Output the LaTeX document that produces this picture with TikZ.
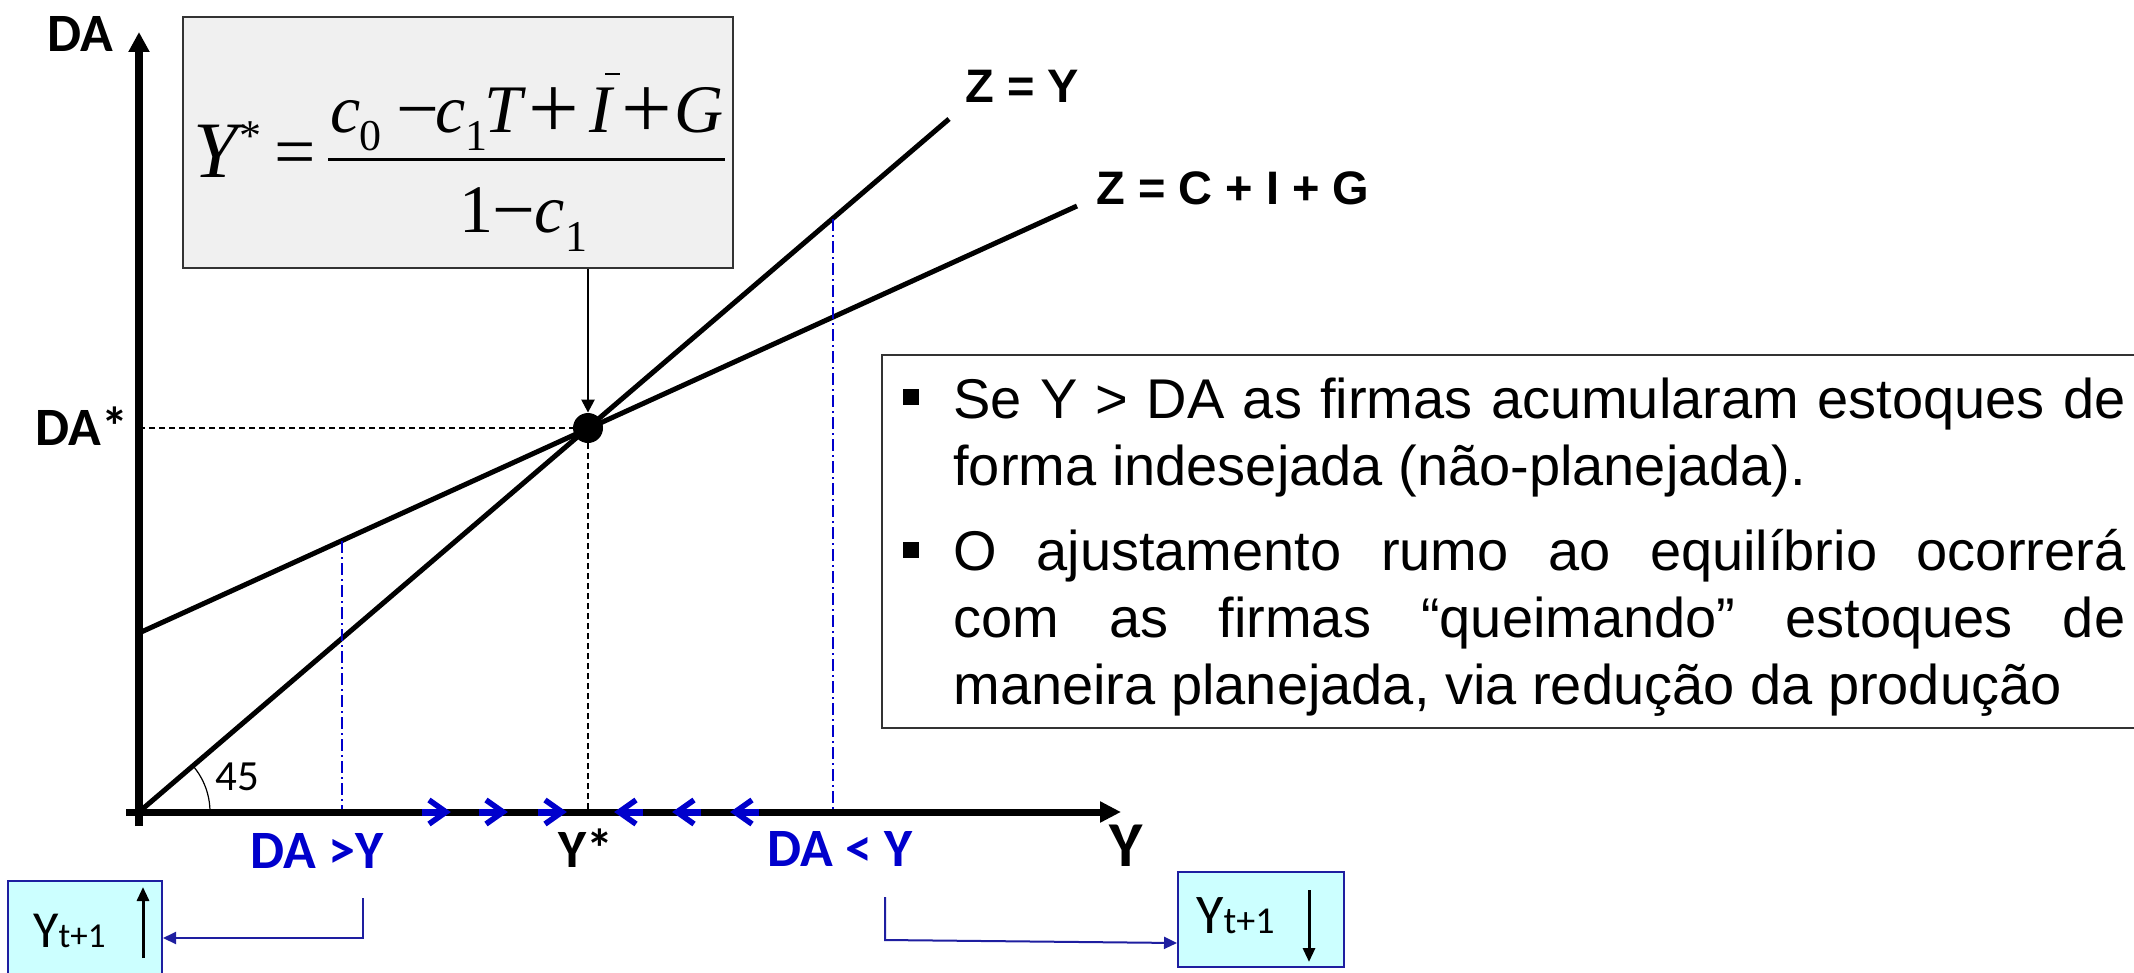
\documentclass[tikz,border=0pt]{standalone}
\usepackage{fontspec}
\setmainfont{Liberation Sans}
\newfontfamily\carl{Carlito}
\newfontfamily\tms{Liberation Serif}
\usetikzlibrary{arrows.meta}
\definecolor{myblue}{RGB}{0,0,204}
\definecolor{navy}{RGB}{30,30,160}
\definecolor{cyanfill}{RGB}{204,255,255}
\definecolor{grayfill}{RGB}{240,240,240}
\begin{document}
\begin{tikzpicture}[x=0.5pt,y=-0.5pt,
  lbl/.style={font=\carl\bfseries\fontsize{27}{32}\selectfont, inner sep=0pt, anchor=base},
  bluelbl/.style={lbl, text=myblue},
  zlbl/.style={font=\bfseries\fontsize{23.5}{28}\selectfont, inner sep=0pt, anchor=base west},
  fit/.style={anchor=base, inner sep=0pt, font=\tms\itshape\fontsize{34}{40}\selectfont},
  fup/.style={anchor=base, inner sep=0pt, font=\tms\fontsize{34}{40}\selectfont},
  fsb/.style={anchor=base, inner sep=0pt, font=\tms\fontsize{22}{24}\selectfont},
  fop/.style={anchor=base, inner sep=0pt, font=\tms\fontsize{#1}{40}\selectfont},
  zline/.style={line width=2.5pt},
  dashblack/.style={line width=0.75pt, dash pattern=on 3pt off 2pt},
  dashblue/.style={myblue, line width=0.75pt, dash pattern=on 6pt off 2pt on 1pt off 2pt},
  chevshaft/.style={myblue, line width=3.5pt},
  chevhead/.style={myblue, line width=2.8pt, line join=miter},
  conn/.style={navy, line width=1pt, -{Triangle[length=6.5pt,width=6pt]}},
  cbox/.style={draw=navy, line width=1pt, fill=cyanfill, inner sep=0pt},
  para/.style={anchor=base west, inner sep=0pt, text width=586pt, align=justify,
     font=\fontsize{28}{33.5}\selectfont},
  bullet/.style={fill=black, minimum size=8pt, inner sep=0pt}]
\useasboundingbox (0,0) rectangle (2134,973);
\clip (0,0) rectangle (2134,973);
% key points
\coordinate (O) at (139,812);
% formula box
\node[draw=black!80, line width=0.75pt, fill=grayfill, minimum width=275pt, minimum height=125.5pt, inner sep=0pt] (fbox) at (458,142.5) {};
% left-hand side
\node[fit, font=\tms\itshape\fontsize{40}{44}\selectfont] (fY) at (216,178) {Y};
\node[anchor=base, inner sep=0pt, font=\tms\fontsize{22}{24}\selectfont] (fst) at (250,151) {*};
\node[fop=36.7] (feq) at (295.5,177) {=};
% numerator
\node[fit] (fc0) at (346,133) {c};
\node[fsb] (fs0) at (370,151) {0};
\node[fop=38] (fm1) at (418,135) {−};
\node[fit] (fc1) at (451,133) {c};
\node[fsb] (fs1) at (476,151) {1};
\node[fit] (fT) at (503,133) {T};
\node[fop=45] (fp1) at (554,139) {+};
\node[fit] (fI) at (601,133) {I};
\node[fop=45] (fp2) at (647,139) {+};
\node[fit] (fG) at (699,133) {G};
\draw[line width=1pt] (605,74) -- (620,74);
% fraction bar
\draw[line width=1.5pt] (328,160) -- (725,160);
% denominator
\node[fup] (fd1) at (476,233) {1};
\node[fop=38] (fm2) at (514,235) {−};
\node[fit] (fc2) at (550,233) {c};
\node[fsb] (fs2) at (576,251) {1};
% equilibrium dot
\node[circle, fill=black, minimum size=15pt, inner sep=0pt] (E) at (588,428) {};
% dashed guides
\draw[dashblack] (O |- E) -- (E.west);
\draw[dashblack] (E.south) -- (E |- O);
% lines
\draw[zline] (O) -- (949,119);
\draw[zline] (139,633) -- (1077,206);
% blue dash-dot guides
\draw[dashblue] (342,541) -- (342,812);
\draw[dashblue] (833,219) -- (833,812);
% arrow from formula
\draw[line width=1.2pt, -{Triangle[length=6.5pt,width=6.5pt]}] (fbox.south -| E) -- (E.north);
% 45 arc
\draw[line width=0.6pt] ([xshift=35.5pt]O) arc[start angle=0, end angle=40.5, radius=35.5pt];
% axes
\draw[line width=4pt, -{Triangle[length=10pt,width=10pt]}] (139,826) -- (139,32);
\draw[line width=3.5pt, -{Triangle[length=10.5pt,width=10pt]}] (126,812) -- (1121,812);
% chevrons (right-pointing)
\foreach \t in {450,507,566}{
  \draw[chevshaft] (\t-28,812) -- (\t-4,812);
  \draw[chevhead] (\t-21,800) -- (\t-4,812) -- (\t-21,824);
}
% chevrons (left-pointing)
\foreach \t in {615,673,731}{
  \draw[chevshaft] (\t+28,812) -- (\t+4,812);
  \draw[chevhead] (\t+21,800) -- (\t+4,812) -- (\t+21,824);
}
% labels
\node[lbl] (lDA) at (80,52) {DA};
\node[lbl] (lDAs) at (82,445) {DA*};
\node[lbl] (lYs) at (586,867) {Y*};
\node[lbl, font=\carl\bfseries\fontsize{32}{36}\selectfont] (lY) at (1126,866) {Y};
\node[bluelbl] (lgt) at (317,868) {DA >Y};
\node[bluelbl] (llt) at (840,866) {DA < Y};
\node[anchor=base west, inner sep=0pt, font=\carl\fontsize{21.5}{25}\selectfont] (l45) at (215,790) {45};
\node[zlbl] (lzy) at (965,103) {Z = Y};
\node[zlbl] (lzc) at (1096,205) {Z = C + I + G};
% text box
\node[draw=black!80, line width=1pt, minimum width=639pt, minimum height=186.5pt, inner sep=0pt] (tbox) at (1521,541.5) {};
\node[bullet] (b1) at (911,397) {};
\node[bullet] (b2) at (911,550) {};
\node[para] (p1) at (953,418) {\hyphenpenalty=10000 Se Y > DA as firmas acumularam estoques de\linebreak forma indesejada (não-planejada).};
\node[para] (p2) at (953,570) {\hyphenpenalty=10000 O ajustamento rumo ao equilíbrio ocorrerá\linebreak com as firmas “queimando” estoques de\linebreak maneira planejada, via redução da produção};
% bottom boxes
\node[cbox, minimum width=77pt, minimum height=57pt] (lbox) at (85,938) {};
\node[anchor=base west, inner sep=0pt] (ly) at (33,947) {\carl\fontsize{26}{30}\selectfont Y\fontsize{17.5}{20}\selectfont t+1};
\draw[line width=1.5pt, -{Triangle[length=7pt,width=6pt]}] (143,958) -- (143,887);
\node[cbox, minimum width=83pt, minimum height=47.5pt] (rbox) at (1261,919.5) {};
\node[anchor=base west, inner sep=0pt] (ry) at (1196,933) {\carl\fontsize{28}{32}\selectfont Y\fontsize{19}{22}\selectfont t+1};
\draw[line width=1.5pt, -{Triangle[length=7pt,width=6pt]}] (1309,890) -- (1309,962);
% connectors
\coordinate (c1) at (363,898);
\coordinate (c2) at (885,897);
\draw[conn] (c1) |- (lbox.east);
\draw[conn] (c2) -- (885,940) -- ([yshift=-11.75pt]rbox.west);
\end{tikzpicture}
\end{document}
